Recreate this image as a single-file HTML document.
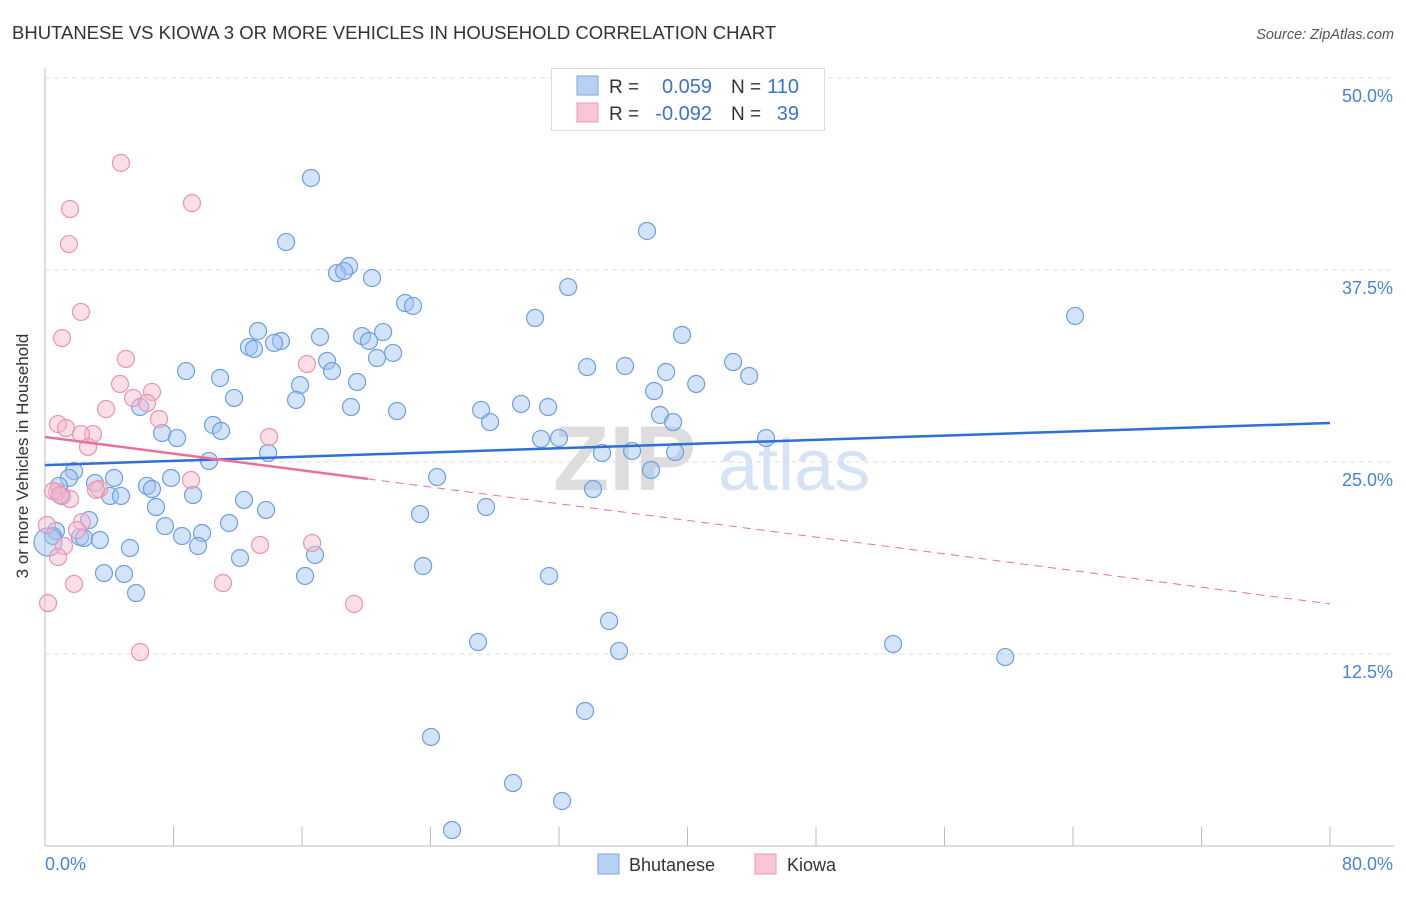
<!DOCTYPE html>
<html><head><meta charset="utf-8"><style>
body{margin:0;background:#fff;font-family:"Liberation Sans",sans-serif;}
svg text{font-family:"Liberation Sans",sans-serif;}
</style></head><body>
<svg id="chart" width="1406" height="892">
<text x="12" y="39" font-size="18.5" fill="#333">BHUTANESE VS KIOWA 3 OR MORE VEHICLES IN HOUSEHOLD CORRELATION CHART</text>
<text x="1394" y="39" font-size="14.5" fill="#555" font-style="italic" text-anchor="end">Source: ZipAtlas.com</text>
<g><text x="553" y="490" font-size="92" fill="#ddd" font-family="Liberation Serif" font-weight="bold">ZIP</text><text x="718" y="490" font-size="72" fill="#d5e3f4">atlas</text></g>
<g id="grid"></g><g id="axes"></g><g id="pts"></g><g id="lines"></g>
<text x="28" y="456" font-size="17" fill="#333" text-anchor="middle" transform="rotate(-90 28 456)">3 or more Vehicles in Household</text>
<g>
<rect x="551.5" y="68.5" width="273" height="62" fill="#fff" stroke="#ddd"/>
<rect x="577" y="76" width="21" height="19" fill="#b8d1f3" stroke="#7aa6e3"/>
<rect x="577" y="103" width="21" height="19" fill="#f9c6d6" stroke="#ec98b2"/>
<text x="609" y="93" font-size="19" fill="#333">R =</text><text x="712" y="93" font-size="20" fill="#3a72d4" text-anchor="end">0.059</text>
<text x="731" y="93" font-size="19" fill="#333">N =</text><text x="799" y="93" font-size="20" fill="#3a72d4" text-anchor="end">110</text>
<text x="609" y="120" font-size="19" fill="#333">R =</text><text x="712" y="120" font-size="20" fill="#3a72d4" text-anchor="end">-0.092</text>
<text x="731" y="120" font-size="19" fill="#333">N =</text><text x="799" y="120" font-size="20" fill="#3a72d4" text-anchor="end">39</text>
</g>
<g>
<rect x="598" y="854" width="21" height="20" fill="#b8d1f3" stroke="#7aa6e3"/>
<text x="629" y="871" font-size="18" fill="#333">Bhutanese</text>
<rect x="755" y="854" width="21" height="20" fill="#f9c6d6" stroke="#ec98b2"/>
<text x="787" y="871" font-size="18" fill="#333">Kiowa</text>
</g>
</svg>
<script>
const blueX=[16.56,15.01,37.48,18.93,18.18,18.62,20.36,32.57,22.42,22.91,30.51,64.13,13.26,17.12,19.74,21.05,39.66,12.70,13.01,14.69,14.26,20.17,21.67,20.67,17.56,33.75,36.11,42.84,8.78,17.87,38.67,43.84,10.90,15.88,19.43,40.54,37.92,11.77,15.63,5.92,19.05,21.92,27.15,29.64,31.32,38.29,27.71,10.46,39.10,10.96,7.29,8.22,30.88,32.00,44.89,13.89,34.68,36.55,39.23,10.21,37.73,24.41,1.81,4.30,1.49,3.11,7.85,0.87,6.35,6.66,1.06,4.05,4.73,9.22,34.12,12.39,27.46,6.91,13.76,23.35,2.74,11.46,7.47,0.68,0.50,0.19,2.18,2.43,3.42,8.53,9.78,9.53,5.29,12.14,16.81,23.54,3.67,4.92,16.19,31.38,5.67,35.12,26.96,52.80,35.74,59.78,33.62,24.03,29.14,32.19,25.34];
const blueY=[43.49,39.32,40.04,37.76,37.30,37.43,36.98,36.39,35.35,35.16,34.38,34.51,33.53,33.14,33.20,33.46,33.27,32.49,32.36,32.88,32.75,32.88,32.10,31.77,31.58,31.18,31.25,31.51,30.92,30.92,30.86,30.60,30.47,30.01,30.21,30.08,29.62,29.17,29.04,28.58,28.58,28.32,28.39,28.78,28.58,28.06,27.60,27.41,27.60,27.02,26.89,26.56,26.50,26.56,26.56,25.59,25.59,25.72,25.65,25.07,24.48,24.02,24.41,23.96,23.96,23.63,23.96,23.44,23.44,23.24,22.79,22.79,22.79,22.85,23.24,22.53,22.07,22.07,21.88,21.61,21.22,21.03,20.83,20.51,20.18,19.79,20.12,20.05,19.92,20.18,20.38,19.53,19.40,18.75,18.95,18.23,17.77,17.71,17.58,17.58,16.47,14.65,13.28,13.15,12.70,12.30,8.79,7.10,4.10,2.93,1.04];
const pinkX=[4.73,9.15,1.56,1.49,2.24,1.06,5.04,16.31,4.67,6.66,5.48,6.35,3.80,7.10,0.81,1.31,2.99,2.24,2.68,13.95,9.09,3.36,0.75,0.50,1.56,2.30,1.99,0.12,1.18,16.63,13.39,0.81,1.81,11.08,19.24,0.19,5.92,3.18,0.93];
const pinkY=[44.47,41.86,41.47,39.19,34.77,33.07,31.71,31.38,30.08,29.56,29.17,28.84,28.45,27.80,27.47,27.21,26.82,26.82,25.98,26.63,23.83,23.24,23.05,23.11,22.59,21.09,20.57,20.90,19.53,19.73,19.60,18.81,17.06,17.12,15.76,15.82,12.63,23.18,22.85];
const blueTrend=[24.80,27.54];
const pinkTrend=[26.63,15.76];
const pinkSolidEnd=20.1;
const yTicks=[12.5,25,37.5,50];
const yTickLabels=["12.5%","25.0%","37.5%","50.0%"];
const xTicks=[0,8,16,24,32,40,48,56,64,72,80];

const X0=45,X1=1330,Y0=846,YTOP=78;
const sx=v=>X0+(v/80)*(X1-X0);
const sy=v=>Y0-(v/50)*(Y0-YTOP);
const NS="http://www.w3.org/2000/svg";
function mk(tag,attrs,parent){const e=document.createElementNS(NS,tag);for(const k in attrs)e.setAttribute(k,attrs[k]);document.getElementById(parent).appendChild(e);return e;}

yTicks.forEach((t,i)=>{
 const g=mk('line',{x1:X0,x2:1394,y1:sy(t),y2:sy(t),stroke:'#ddd','stroke-dasharray':'5,4'},'grid');
 
 
 const l=mk('text',{x:1393,y:sy(t)+24,'font-size':18,fill:'#4a82d8','text-anchor':'end'},'axes');
 l.textContent=yTickLabels[i];
 
 
});
const ax=mk('line',{x1:X0,x2:1394,y1:Y0,y2:Y0,stroke:'#bbb'},'axes');


const ay=mk('line',{x1:X0,x2:X0,y1:68,y2:Y0,stroke:'#bbb'},'axes');


xTicks.forEach(t=>{
 const k=mk('line',{x1:sx(t),x2:sx(t),y1:827,y2:Y0,stroke:'#bbb'},'axes');
 
 
});
const xl0=mk('text',{x:45,y:870,'font-size':18,fill:'#4a82d8'},'axes');xl0.textContent='0.0%';


const xl1=mk('text',{x:1393,y:870,'font-size':18,fill:'#4a82d8','text-anchor':'end'},'axes');xl1.textContent='80.0%';



blueX.forEach((v,i)=>{
 const c=mk('circle',{cx:sx(v),cy:sy(blueY[i]),r:(i===85?14:8.5),fill:'rgba(160,195,240,0.45)',stroke:'#6d9fe2','stroke-width':1.2},'pts');
 
 
});
pinkX.forEach((v,i)=>{
 const c=mk('circle',{cx:sx(v),cy:sy(pinkY[i]),r:8.5,fill:'rgba(247,185,205,0.45)',stroke:'#ea94b0','stroke-width':1.2},'pts');
 
 
});
const bl=mk('line',{x1:sx(0),y1:sy(blueTrend[0]),x2:sx(80),y2:sy(blueTrend[1]),stroke:'#2f6fd6','stroke-width':2.5},'lines');


const pAt=x=>pinkTrend[0]+(pinkTrend[1]-pinkTrend[0])*x/80;
const ps=mk('line',{x1:sx(0),y1:sy(pAt(0)),x2:sx(pinkSolidEnd),y2:sy(pAt(pinkSolidEnd)),stroke:'#e8719b','stroke-width':2.5},'lines');


const pd=mk('line',{x1:sx(pinkSolidEnd),y1:sy(pAt(pinkSolidEnd)),x2:sx(80),y2:sy(pAt(80)),stroke:'#e8719b','stroke-width':1,'stroke-dasharray':'8,6'},'lines');


</script>
</body></html>
